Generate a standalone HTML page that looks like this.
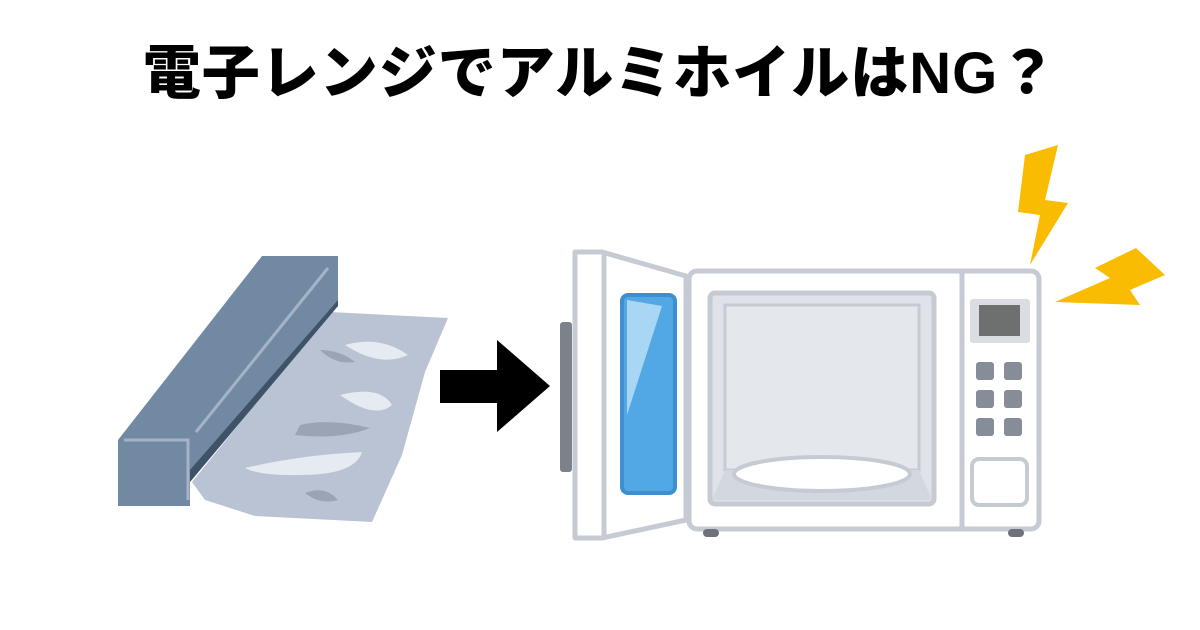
<!DOCTYPE html>
<html><head><meta charset="utf-8"><style>
html,body{margin:0;padding:0;background:#fff;}
body{width:1200px;height:630px;position:relative;overflow:hidden;}
.t{position:absolute;left:0;width:1200px;top:34px;text-align:center;font-family:"Liberation Sans","Noto Sans CJK JP",sans-serif;font-weight:900;font-size:58px;line-height:80px;color:#000;letter-spacing:1px;}
svg{position:absolute;left:0;top:0;}
</style></head><body>
<div class="t">電子レンジでアルミホイルはNG？</div>
<svg width="1200" height="630" viewBox="0 0 1200 630">
<polygon points="330,312 448,318 425,372 402,455 372,522 255,516 205,500 192,482" fill="#b9c3d3"/>
<path d="M345,345 Q380,335 408,355 Q380,368 345,345Z" fill="#e6eaf1"/>
<path d="M340,395 Q380,385 392,405 Q375,420 340,395Z" fill="#e6eaf1"/>
<path d="M245,468 Q300,455 362,452 Q355,475 300,475 Q260,476 245,468Z" fill="#e6eaf1"/>
<path d="M320,350 Q340,350 355,362 Q335,365 320,350Z" fill="#9aa4b4"/>
<path d="M300,425 Q330,418 370,428 Q340,440 295,435Z" fill="#9aa4b4"/>
<path d="M305,493 Q325,485 338,500 Q320,505 305,493Z" fill="#9aa4b4"/>
<polygon points="118,440 262,256 338,256 338,302 190,482 190,506 118,506" fill="#7289a3"/>
<polygon points="190,470 338,300 338,306 190,482" fill="#3f5368"/>
<line x1="196" y1="432" x2="328" y2="268" stroke="#a4b4c6" stroke-width="3"/>
<polyline points="124,440 188,440 188,500" fill="none" stroke="#a4b4c6" stroke-width="3"/>
<polygon points="440,370 497,370 497,340 550,386 497,432 497,403 440,403" fill="#000"/>
<rect x="560" y="322" width="12" height="150" rx="3" fill="#7c818a"/>
<polygon points="575,252 602,252 686,276 686,520 602,538 575,538" fill="#fff" stroke="#c6cbd3" stroke-width="5" stroke-linejoin="round"/>
<line x1="604" y1="254" x2="604" y2="536" stroke="#c6cbd3" stroke-width="5"/>
<rect x="622" y="295" width="53" height="198" rx="6" fill="#52a8e4" stroke="#3d8fcf" stroke-width="4"/>
<polygon points="627,300 662,306 627,415" fill="#a9d6f3"/>
<rect x="689" y="271" width="350" height="258" rx="8" fill="#fff" stroke="#c6cbd3" stroke-width="5"/>
<line x1="962" y1="273" x2="962" y2="527" stroke="#c6cbd3" stroke-width="5"/>
<rect x="710" y="293" width="224" height="211" rx="5" fill="#dfe2e8" stroke="#c6cbd3" stroke-width="5"/>
<rect x="725" y="305" width="194" height="165" fill="#e4e7ec" stroke="#c6cbd3" stroke-width="3"/>
<polygon points="712,500 725,470 919,470 932,500" fill="#d3d7de"/>
<ellipse cx="822" cy="474" rx="88" ry="17" fill="#fff" stroke="#c6cbd3" stroke-width="4"/>
<rect x="970" y="299" width="60" height="44" rx="3" fill="#dadde2"/>
<rect x="979" y="305" width="41" height="31" fill="#6d706f"/>
<g fill="#868d99">
<rect x="976" y="362" width="18" height="18" rx="3"/><rect x="1004" y="362" width="18" height="18" rx="3"/>
<rect x="976" y="390" width="18" height="18" rx="3"/><rect x="1004" y="390" width="18" height="18" rx="3"/>
<rect x="976" y="418" width="18" height="18" rx="3"/><rect x="1004" y="418" width="18" height="18" rx="3"/>
</g>
<rect x="972" y="459" width="55" height="46" rx="7" fill="#fff" stroke="#c6cbd3" stroke-width="4"/>
<rect x="703" y="529" width="16" height="8" rx="4" fill="#6d727b"/>
<rect x="1008" y="529" width="16" height="8" rx="4" fill="#6d727b"/>
<polygon points="1025,155 1058,145 1045,200 1068,203 1030,265 1040,215 1018,212" fill="#f9bc00"/>
<polygon points="1055,302 1110,278 1095,268 1136,248 1165,275 1130,290 1140,305" fill="#f9bc00"/>
</svg>
</body></html>
